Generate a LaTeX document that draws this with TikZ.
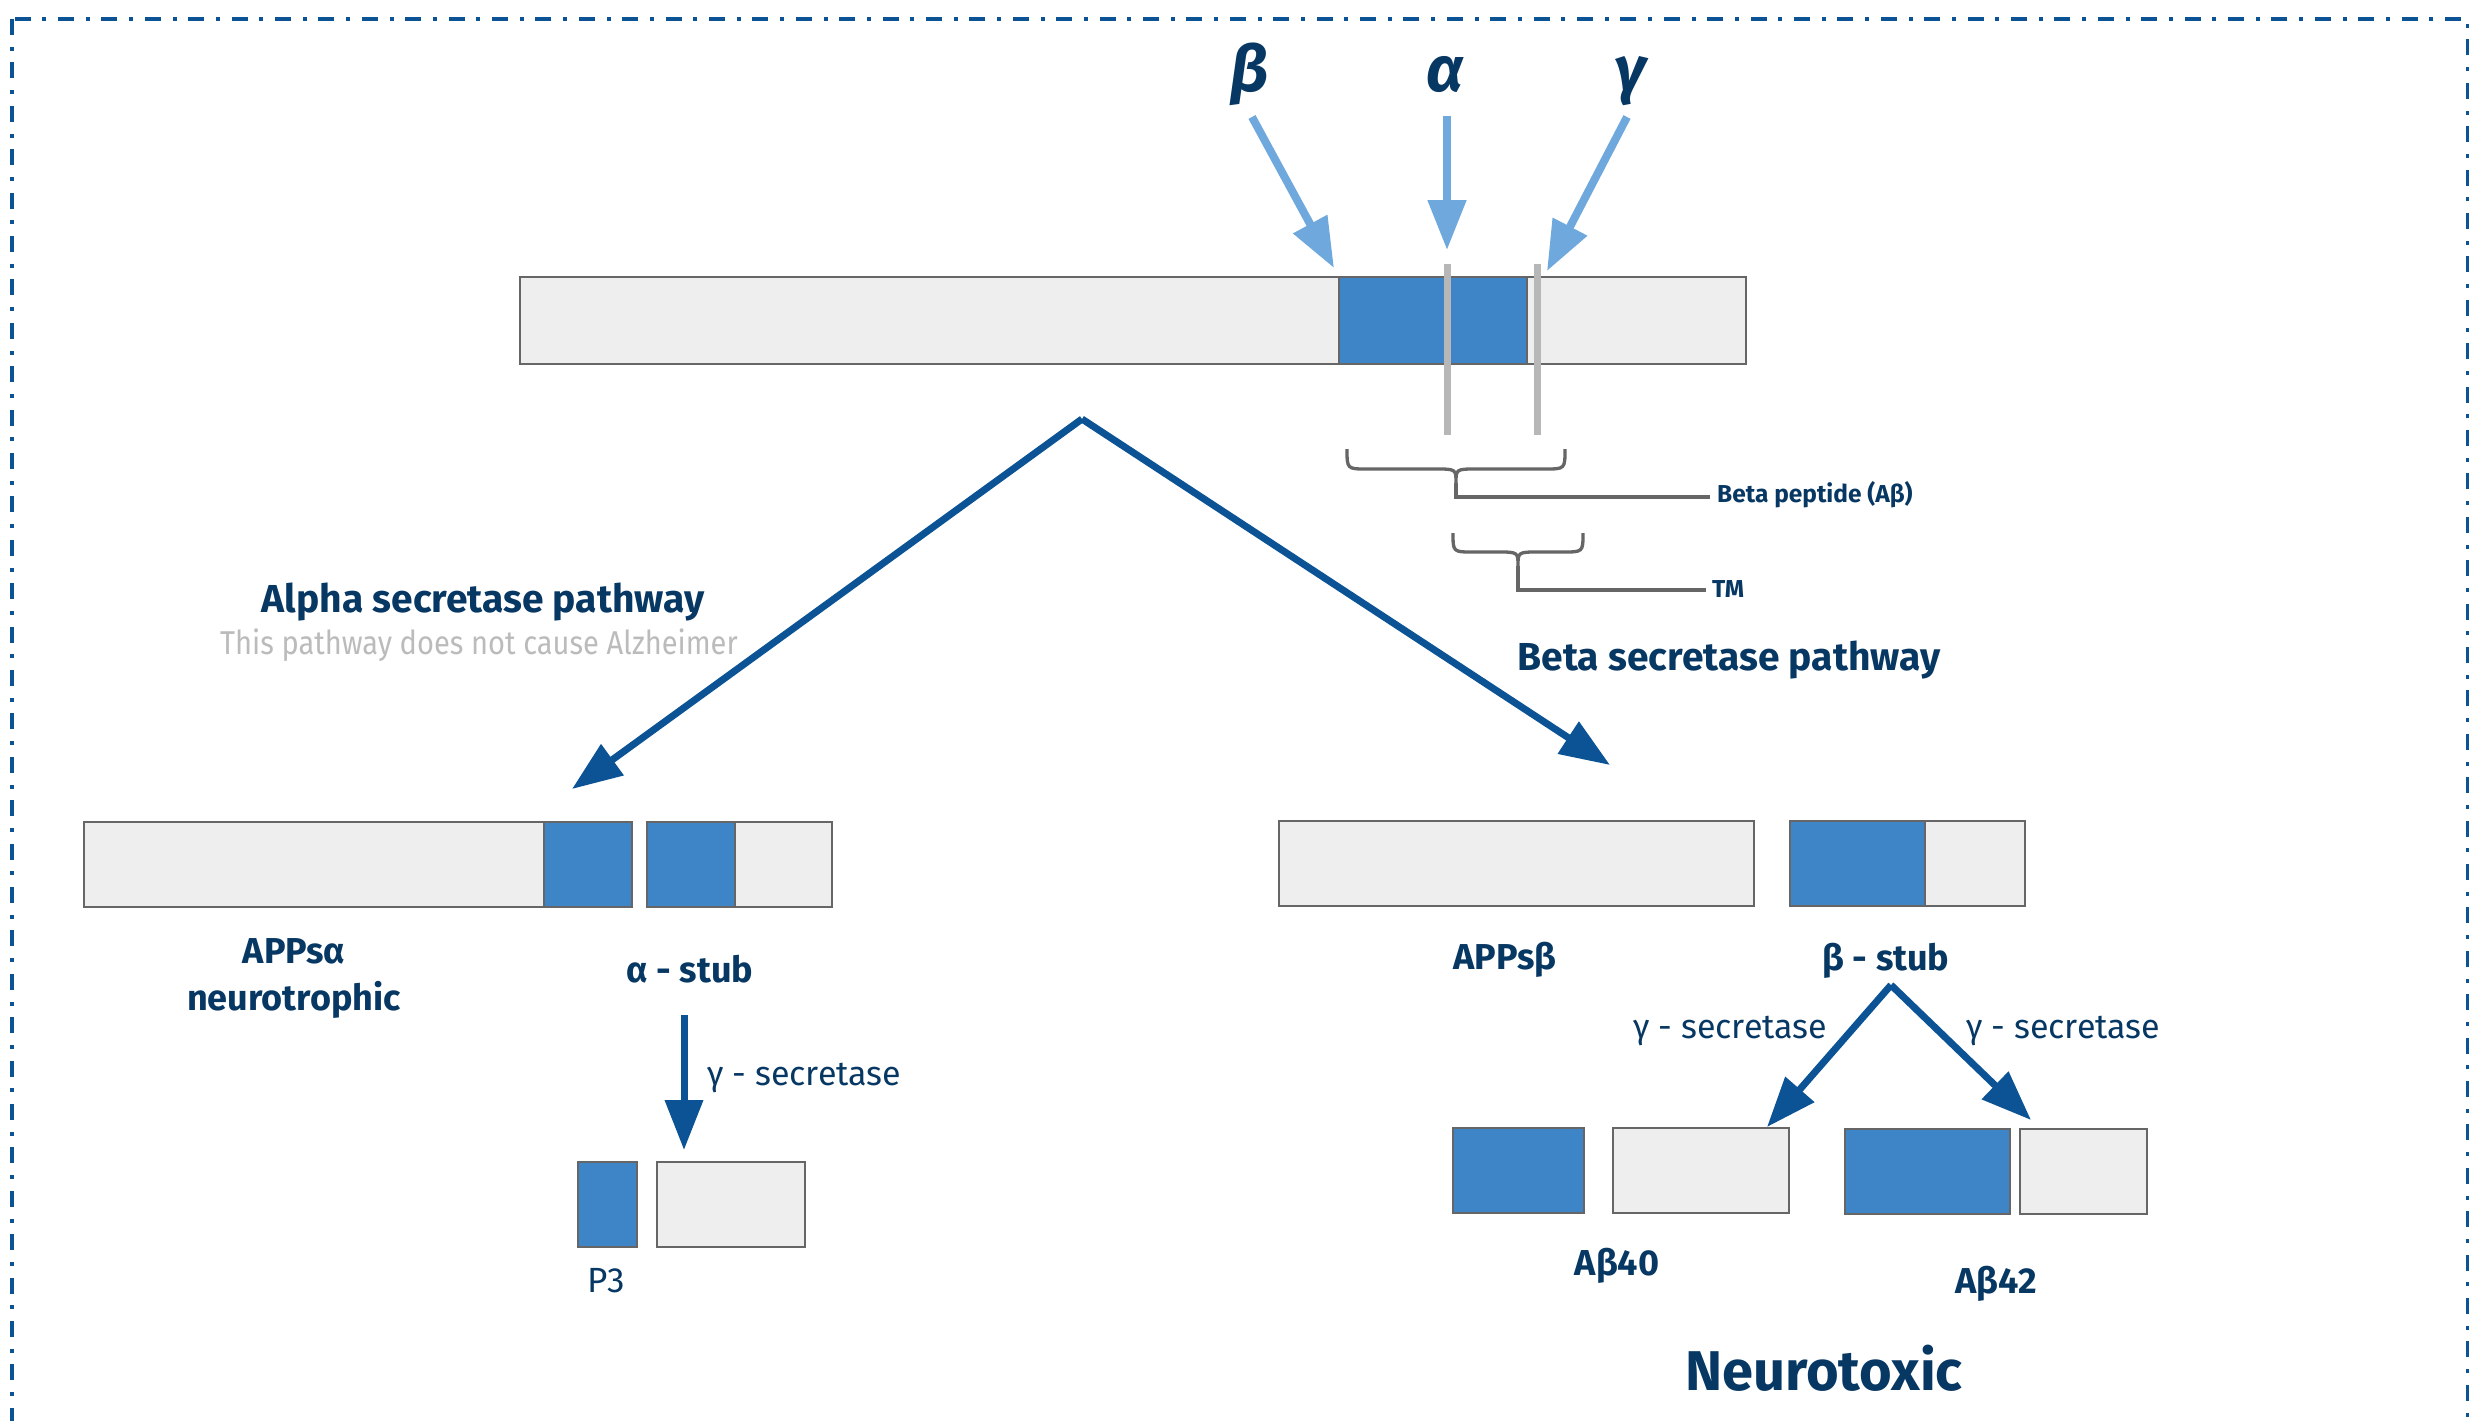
\documentclass[tikz,border=0pt]{standalone}
\usepackage{fontspec}
\setmainfont{Fira Sans}
\newfontfamily\notefont[FakeStretch=0.88]{Fira Sans}
\usetikzlibrary{arrows.meta}

\definecolor{navy}{HTML}{073763}
\definecolor{darkarrow}{HTML}{0B5394}
\definecolor{lightarrow}{HTML}{6FA8DC}
\definecolor{segblue}{HTML}{3D85C6}
\definecolor{seggrey}{HTML}{EEEEEE}
\definecolor{edge}{HTML}{666666}
\definecolor{cutline}{HTML}{B7B7B7}
\definecolor{faint}{HTML}{BBBBBB}

% a rectangular segment of the protein: name, x1, y1, x2, y2, style
\newcommand\segbox[6]{%
  \node[#6, anchor=north west, minimum width={(#4-#2)*1pt}, minimum height={(#5-#3)*1pt}] (#1) at (#2,#3) {};}

\tikzset{
  greyseg/.style={draw=edge, fill=seggrey, line width=2pt, inner sep=0pt, outer sep=0pt},
  blueseg/.style={draw=edge, fill=segblue, line width=2pt, inner sep=0pt, outer sep=0pt},
  frameline/.style={draw=darkarrow, line width=4.5pt, dash pattern=on 16pt off 11.7pt on 4pt off 11.7pt},
  cutarrow/.style={draw=lightarrow, line width=8pt, -{Triangle[length=50pt,width=37pt]}},
  patharrow/.style={draw=darkarrow, line width=7pt, -{Triangle[length=50pt,width=37pt]}},
  cutmark/.style={draw=cutline, line width=7pt},
  brace/.style={draw=edge, line width=3.3pt},
  greek/.style={font=\bfseries\itshape\fontsize{64}{70}\selectfont, text=navy, anchor=base, inner sep=0pt},
  title/.style={font=\bfseries\fontsize{39}{44}\selectfont, text=navy, anchor=base, inner sep=0pt},
  subtitle/.style={font=\notefont\fontsize{33}{40}\selectfont, text=faint, anchor=base, inner sep=0pt},
  lbl/.style={font=\bfseries\fontsize{36}{40}\selectfont, text=navy, anchor=base, inner sep=0pt},
  small/.style={font=\bfseries\fontsize{24.5}{30}\selectfont, text=navy, anchor=base west, inner sep=0pt},
  enzyme/.style={font=\fontsize{34}{40}\selectfont, text=navy, anchor=base west, inner sep=0pt},
  plain/.style={font=\fontsize{35}{40}\selectfont, text=navy, anchor=base, inner sep=0pt},
  big/.style={font=\bfseries\fontsize{56}{64}\selectfont, text=navy, anchor=base, inner sep=0pt},
}

\begin{document}
\begin{tikzpicture}[x=1pt, y=-1pt]
\clip (0,0) rectangle (2469,1421);
\fill[white] (0,0) rectangle (2469,1421);

% dash-dotted frame
\draw[frameline] (12,19) rectangle (2468,1500);

% full precursor with the Abeta region
\segbox{app}{520}{277}{1746}{364}{greyseg}
\segbox{abeta}{1339}{277}{1527}{364}{blueseg}

% cleavage sites
\coordinate (asite-top) at (1447,264);
\coordinate (asite-bot) at (1447,435);
\coordinate (gsite-top) at (1537,264);
\coordinate (gsite-bot) at (1537,435);
\draw[cutmark] (asite-top) -- (asite-bot);
\draw[cutmark] (gsite-top) -- (gsite-bot);

% secretases
\node[greek] (beta) at (1250,92) {β};
\node[greek] (alpha) at (1445,92) {α};
\node[greek] (gamma) at (1630,92) {γ};
\coordinate (beta-from) at (1252,117);
\coordinate (beta-to) at (1334,268);
\coordinate (alpha-from) at (1447,116);
\coordinate (alpha-to) at (1447,250);
\coordinate (gamma-from) at (1627,117);
\coordinate (gamma-to) at (1547,271);
\draw[cutarrow] (beta-from) -- (beta-to);
\draw[cutarrow] (alpha-from) -- (alpha-to);
\draw[cutarrow] (gamma-from) -- (gamma-to);

% braces for the peptide and the transmembrane part
\draw[brace] (1347,449) .. controls (1347,469) .. (1367,469) -- (1435,469)
  .. controls (1456,469) .. (1456,483) .. controls (1456,469) .. (1477,469)
  -- (1545,469) .. controls (1565,469) .. (1565,449);
\coordinate (pep-tip) at (1456,483);
\coordinate (pep-end) at (1710,497);
\draw[brace] (pep-tip) |- (pep-end);
\node[small] (peptide) at (1717,502) {Beta peptide (Aβ)};

\draw[brace] (1453,533) .. controls (1453,552) .. (1473,552) -- (1497,552)
  .. controls (1518,552) .. (1518,566) .. controls (1518,552) .. (1539,552)
  -- (1563,552) .. controls (1583,552) .. (1583,533);
\coordinate (tm-tip) at (1518,566);
\coordinate (tm-end) at (1706,590);
\draw[brace] (tm-tip) |- (tm-end);
\node[small] (tm) at (1712,597) {TM};

% the two pathways
\coordinate (split) at (1082,419);
\coordinate (alpha-path) at (572,789);
\coordinate (beta-path) at (1610,765);
\draw[patharrow] (split) -- (alpha-path);
\draw[patharrow] (split) -- (beta-path);

\node[title] (alpha-title) at (483,612) {Alpha secretase pathway};
\node[subtitle] (alpha-note) at (479,654) {This pathway does not cause Alzheimer};
\node[title] (beta-title) at (1729,670) {Beta secretase pathway};

% alpha secretase products
\segbox{appsa}{84}{822}{632}{907}{greyseg}
\segbox{appsa-end}{544}{822}{632}{907}{blueseg}
\segbox{astub}{647}{822}{832}{907}{greyseg}
\segbox{astub-ab}{647}{822}{735}{907}{blueseg}
\node[lbl] (appsa-lbl) at (294,963) {APPsα};
\node[lbl] (appsa-role) at (294,1010) {neurotrophic};
\node[lbl] (astub-lbl) at (690,982) {α - stub};

\coordinate (astub-from) at (684,1015);
\coordinate (p3-to) at (684,1150);
\draw[patharrow] (astub-from) -- (p3-to);
\node[enzyme] (gsec-a) at (707,1085) {γ - secretase};

\segbox{p3}{578}{1162}{637}{1247}{blueseg}
\segbox{aicd-a}{657}{1162}{805}{1247}{greyseg}
\node[plain] (p3-lbl) at (606,1292) {P3};

% beta secretase products
\segbox{appsb}{1279}{821}{1754}{906}{greyseg}
\segbox{bstub}{1790}{821}{2025}{906}{greyseg}
\segbox{bstub-ab}{1790}{821}{1925}{906}{blueseg}
\node[lbl] (appsb-lbl) at (1505,969) {APPsβ};
\node[lbl] (bstub-lbl) at (1886,970) {β - stub};

\coordinate (fork) at (1891,985);
\coordinate (ab40-to) at (1767,1127);
\coordinate (ab42-to) at (2031,1120);
\draw[patharrow] (fork) -- (ab40-to);
\draw[patharrow] (fork) -- (ab42-to);
\node[enzyme] (gsec-b1) at (1633,1038) {γ - secretase};
\node[enzyme] (gsec-b2) at (1966,1038) {γ - secretase};

\segbox{ab40}{1453}{1128}{1584}{1213}{blueseg}
\segbox{aicd-40}{1613}{1128}{1789}{1213}{greyseg}
\segbox{ab42}{1845}{1129}{2010}{1214}{blueseg}
\segbox{aicd-42}{2020}{1129}{2147}{1214}{greyseg}
\node[lbl] (ab40-lbl) at (1617,1275) {Aβ40};
\node[lbl] (ab42-lbl) at (1996,1293) {Aβ42};
\node[big] (toxic) at (1824,1390) {Neurotoxic};
\end{tikzpicture}
\end{document}
